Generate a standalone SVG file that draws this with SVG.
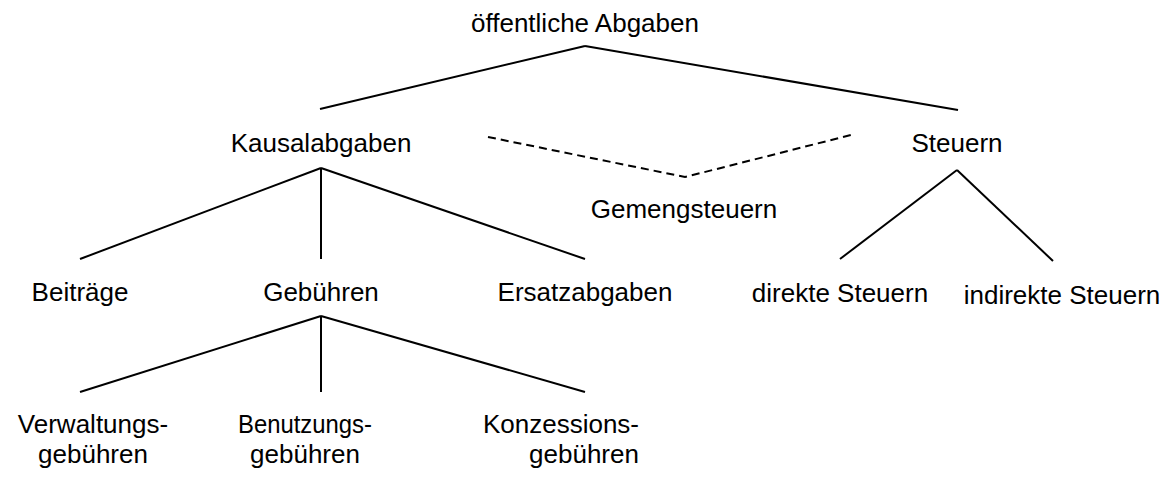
<svg xmlns="http://www.w3.org/2000/svg" width="1171" height="484" viewBox="0 0 1171 484">
<style>
text{font-family:"Liberation Sans",Arial,sans-serif;font-size:26px;fill:#000;text-anchor:middle}
.c line,.c polyline{stroke:#000;stroke-width:2;fill:none}
.d{stroke-dasharray:8,5}
</style>
<rect width="1171" height="484" fill="#fff"/>
<g class="c" id="connectors">
<line x1="585" y1="46" x2="320" y2="109"/>
<line x1="585" y1="46" x2="958" y2="110"/>
<line x1="321" y1="168" x2="80" y2="259"/>
<line x1="321" y1="168" x2="321" y2="259"/>
<line x1="321" y1="168" x2="585" y2="259"/>
<polyline class="d" points="488,137 685,177 851,135"/>
<line x1="957" y1="170" x2="840" y2="259"/>
<line x1="957" y1="170" x2="1053" y2="261"/>
<line x1="321" y1="316" x2="80" y2="392"/>
<line x1="321" y1="316" x2="321" y2="392"/>
<line x1="321" y1="316" x2="585" y2="392"/>
</g>
<g id="oeffentliche"><text x="585" y="32">öffentliche Abgaben</text></g>
<g id="kausal"><text x="321" y="152">Kausalabgaben</text></g>
<g id="steuern"><text x="957" y="152">Steuern</text></g>
<g id="gemeng"><text x="684" y="218">Gemengsteuern</text></g>
<g id="beitraege"><text x="80" y="301">Beiträge</text></g>
<g id="gebuehren"><text x="321" y="301">Gebühren</text></g>
<g id="ersatz"><text x="585" y="301">Ersatzabgaben</text></g>
<g id="direkt"><text x="840" y="302">direkte Steuern</text></g>
<g id="indirekt"><text x="1062" y="304">indirekte Steuern</text></g>
<g id="verwaltung"><text x="93" y="433">Verwaltungs-</text><text x="93" y="463">gebühren</text></g>
<g id="benutzung"><text x="238" y="433" style="text-anchor:start" textLength="134" lengthAdjust="spacingAndGlyphs">Benutzungs-</text><text x="305" y="463">gebühren</text></g>
<g id="konzession"><text x="561" y="433">Konzessions-</text><text x="584" y="463">gebühren</text></g>
</svg>
